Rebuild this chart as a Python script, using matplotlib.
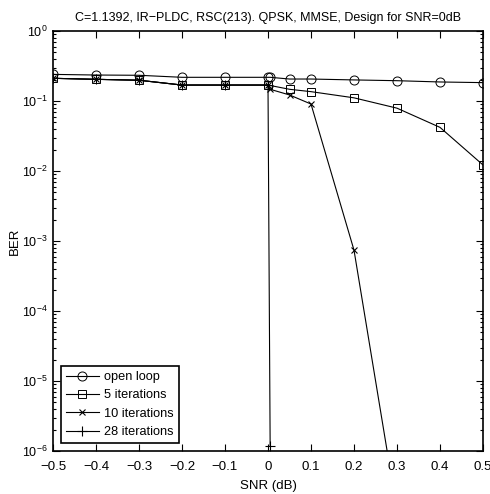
import matplotlib
matplotlib.use("Agg")
import matplotlib.pyplot as plt
import numpy as np

plt.rcParams['font.family'] = ['Liberation Sans', 'DejaVu Sans']
plt.rcParams['mathtext.fontset'] = 'custom'
plt.rcParams['mathtext.rm'] = 'Liberation Sans'

title = "C=1.1392, IR\u2212PLDC, RSC(213). QPSK, MMSE, Design for SNR=0dB"

snr_open = [-0.5, -0.4, -0.3, -0.2, -0.1, 0.0, 0.005, 0.05, 0.1, 0.2, 0.3, 0.4, 0.5]
ber_open = [0.24, 0.235, 0.233, 0.218, 0.218, 0.218, 0.218, 0.206, 0.206, 0.200, 0.195, 0.187, 0.183]

snr_5 = [-0.5, -0.4, -0.3, -0.2, -0.1, 0.0, 0.05, 0.1, 0.2, 0.3, 0.4, 0.5]
ber_5 = [0.211, 0.204, 0.198, 0.169, 0.169, 0.169, 0.147, 0.136, 0.111, 0.079, 0.042, 0.0122]

snr_10 = [-0.5, -0.4, -0.3, -0.2, -0.1, 0.0, 0.005, 0.05, 0.1, 0.2, 0.3]
ber_10 = [0.211, 0.204, 0.198, 0.169, 0.169, 0.169, 0.147, 0.122, 0.0905, 7.4e-4, 1.4e-7]

snr_28 = [-0.5, -0.4, -0.3, -0.2, -0.1, 0.0, 0.005]
ber_28 = [0.211, 0.204, 0.198, 0.169, 0.169, 0.169, 1.18e-6]

labels = ["open loop", "5 iterations", "10 iterations", "28 iterations"]
xtick_vals = [-0.5, -0.4, -0.3, -0.2, -0.1, 0.0, 0.1, 0.2, 0.3, 0.4, 0.5]
xtick_labels = ['\u22120.5', '\u22120.4', '\u22120.3', '\u22120.2', '\u22120.1', '0',
                '0.1', '0.2', '0.3', '0.4', '0.5']

fig = plt.figure(figsize=(4.9, 4.94), dpi=100)
ax = fig.add_axes([53/490, 1-451/494, 430/490, 420/494])

lw = 0.8
ax.plot(snr_open, ber_open, '-', color='black', lw=lw, marker='o', mfc='none', mec='black', ms=6.5, mew=0.7, label=labels[0])
ax.plot(snr_5, ber_5, '-', color='black', lw=lw, marker='s', mfc='none', mec='black', ms=5.5, mew=0.7, label=labels[1])
ax.plot(snr_10, ber_10, '-', color='black', lw=lw, marker='x', mec='black', ms=5, mew=0.8, label=labels[2])
ax.plot(snr_28, ber_28, '-', color='black', lw=lw, marker='+', mec='black', ms=7, mew=0.8, label=labels[3])

ax.set_yscale('log')
ax.set_xlim(-0.5, 0.5)
ax.set_ylim(1e-6, 1)
ax.set_xticks(xtick_vals)
ax.set_xticklabels(xtick_labels)
ax.tick_params(which='both', direction='in', top=True, right=True, width=0.8)
ax.tick_params(axis='x', labelsize=9.5, pad=7)
ax.tick_params(axis='y', labelsize=9, pad=4)
ax.tick_params(which='major', length=5)
ax.tick_params(which='minor', length=2.5)
for s in ax.spines.values():
    s.set_linewidth(1.2)

ax.set_xlabel("SNR (dB)", fontsize=9.5, labelpad=5)
ax.set_ylabel("BER", fontsize=9.5)
ax.yaxis.set_label_coords(-0.074, 0.5)
ax.set_title(title, fontsize=9, pad=7)

leg = ax.legend(loc='lower left', fontsize=9.2, frameon=True, fancybox=False,
                edgecolor='black', borderaxespad=0.6, handlelength=2.6,
                handletextpad=0.4, labelspacing=0.5, borderpad=0.4)
leg.get_frame().set_linewidth(1.2)
leg.get_frame().set_alpha(1)

fig.savefig("out.png", dpi=100)
